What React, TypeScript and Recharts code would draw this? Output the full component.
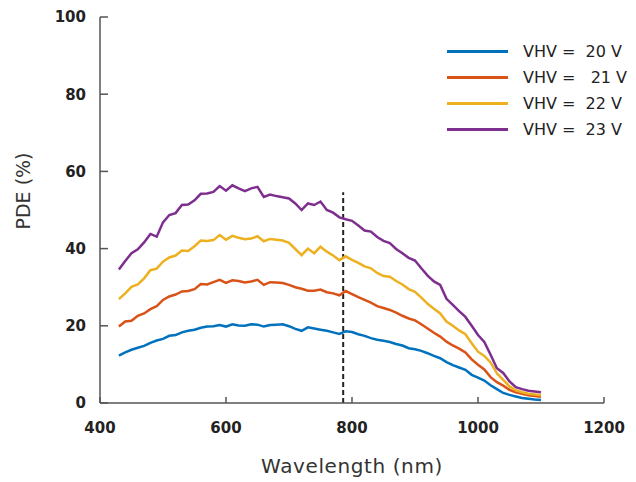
import { LineChart, Line, XAxis, YAxis, Legend, ReferenceLine } from 'recharts'

const wavelength = [
  430, 440, 450, 460, 470, 480, 490, 500, 510, 520, 530, 540, 550, 560, 570, 580, 590, 600, 610, 620,
  630, 640, 650, 660, 670, 680, 690, 700, 710, 720, 730, 740, 750, 760, 770, 780, 790, 800, 810, 820,
  830, 840, 850, 860, 870, 880, 890, 900, 910, 920, 930, 940, 950, 960, 970, 980, 990, 1000, 1010, 1020,
  1030, 1040, 1050, 1060, 1070, 1080, 1090, 1100,
]

const pde20 = [
  12.3, 13.1, 13.8, 14.3, 14.8, 15.6, 16.2, 16.6, 17.4, 17.6, 18.3, 18.7, 19.0, 19.5, 19.8, 19.9, 20.2, 19.8, 20.4, 20.1,
  20.0, 20.4, 20.3, 19.8, 20.2, 20.3, 20.4, 19.9, 19.2, 18.7, 19.6, 19.3, 19.0, 18.7, 18.3, 17.9, 18.6, 18.4, 17.8, 17.4,
  16.8, 16.4, 16.1, 15.8, 15.3, 14.9, 14.2, 13.9, 13.5, 12.9, 12.2, 11.6, 10.6, 9.8, 9.2, 8.6, 7.3, 6.6, 5.8, 4.6,
  3.6, 2.6, 2.1, 1.7, 1.3, 1.1, 0.9, 0.8,
]

const pde21 = [
  19.8, 21.1, 21.3, 22.6, 23.2, 24.3, 25.1, 26.7, 27.6, 28.1, 28.9, 29.0, 29.5, 30.8, 30.7, 31.3, 31.9, 31.1, 31.8, 31.6,
  31.2, 31.5, 31.9, 30.6, 31.3, 31.2, 31.1, 30.6, 30.0, 29.6, 29.1, 29.1, 29.4, 28.7, 28.4, 27.9, 29.0, 28.2, 27.4, 26.7,
  26.0, 25.1, 24.6, 24.1, 23.4, 22.6, 21.9, 21.4, 20.4, 19.3, 18.2, 17.2, 15.9, 14.9, 14.1, 13.1, 11.3, 9.9, 8.7, 6.7,
  5.4, 4.5, 3.4, 2.8, 2.4, 2.0, 1.8, 1.6,
]

const pde22 = [
  26.9, 28.4, 30.1, 30.7, 32.3, 34.4, 34.8, 36.6, 37.7, 38.2, 39.5, 39.4, 40.6, 42.1, 42.0, 42.2, 43.5, 42.3, 43.3, 42.8,
  42.4, 42.6, 43.2, 41.9, 42.5, 42.3, 42.1, 41.5, 39.9, 38.3, 40.0, 38.8, 40.5, 39.2, 38.2, 37.0, 38.0, 37.1, 36.3, 35.4,
  34.9, 33.7, 32.9, 32.7, 31.6, 30.7, 29.5, 28.8, 27.3, 25.7, 24.4, 23.2, 21.1, 20.0, 18.8, 17.8, 15.5, 13.3, 12.2, 10.5,
  7.7, 6.0, 4.3, 3.3, 2.8, 2.4, 2.2, 2.0,
]

const pde23 = [
  34.6, 36.8, 38.8, 39.8, 41.6, 43.8, 43.1, 46.8, 48.7, 49.2, 51.3, 51.4, 52.5, 54.2, 54.3, 54.7, 56.2, 55.0, 56.4, 55.6,
  54.9, 55.6, 56.0, 53.4, 54.0, 53.6, 53.3, 53.0, 51.7, 50.0, 51.7, 51.3, 52.2, 50.0, 49.3, 48.1, 47.6, 47.2, 46.0, 44.7,
  44.4, 43.0, 42.0, 41.4, 39.9, 38.8, 37.6, 36.9, 34.9, 33.0, 31.5, 30.6, 27.0, 25.4, 23.8, 22.3, 20.0, 17.6, 15.8, 12.5,
  9.0, 7.8, 5.6, 4.1, 3.6, 3.2, 3.0, 2.8,
]

const seriesNames = ['VHV =  20 V', 'VHV =   21 V', 'VHV =  22 V', 'VHV =  23 V']
const seriesKeys = ['v20', 'v21', 'v22', 'v23']
const seriesColors = ['#0072BD', '#D95319', '#EDB120', '#7E2F8E']

const xTicks = [400, 600, 800, 1000, 1200]
const yTicks = [0, 20, 40, 60, 80, 100]

// dashed marker
const markerWavelength = 786
const markerTop = 54.6

const data = wavelength.map((w, i) => ({
  wavelength: w,
  v20: pde20[i],
  v21: pde21[i],
  v22: pde22[i],
  v23: pde23[i],
}))

const fontFamily = '"DejaVu Sans", "Open Sans", sans-serif'
const axisColor = '#555'
const textColor = '#222'

const renderLegend = () => (
  <div style={{ fontFamily, fontSize: 16, color: textColor }}>
    {seriesNames.map((name, i) => (
      <div key={name} style={{ display: 'flex', alignItems: 'center', height: 26 }}>
        <span style={{ display: 'inline-block', width: 61, height: 3, background: seriesColors[i], marginRight: 15 }} />
        <span style={{ whiteSpace: 'pre' }}>{name}</span>
      </div>
    ))}
  </div>
)

// y title sits a bit above the middle of the axis, as in the original
const YTitle = (props: any) => {
  const { x, y, height } = props.viewBox
  const cx = x + 23
  const cy = y + height / 2 - 19
  return (
    <text
      x={cx}
      y={cy}
      transform={`rotate(-90, ${cx}, ${cy})`}
      textAnchor="middle"
      dominantBaseline="central"
      fill="#333"
      fontSize={19}
      fontFamily={fontFamily}
    >
      PDE (%)
    </text>
  )
}

const App = () => {
  return (
    <div style={{ width: 636, height: 482, fontFamily }}>
      <style>{'body { margin: 0; }'}</style>
      <LineChart width={636} height={482} data={data} margin={{ top: 17, right: 32, left: 0, bottom: 0 }}>
        <XAxis
          dataKey="wavelength"
          type="number"
          domain={[400, 1200]}
          ticks={xTicks}
          height={79}
          stroke={axisColor}
          strokeWidth={1.5}
          tickSize={-6}
          tickMargin={25}
          tick={{ fill: textColor, fontSize: 15, fontWeight: 700 }}
          label={{
            value: 'Wavelength (nm)',
            position: 'insideBottom',
            offset: 9,
            fill: '#333',
            fontSize: 20,
            style: { letterSpacing: '0.6px' },
          }}
        />
        <YAxis
          type="number"
          domain={[0, 100]}
          ticks={yTicks}
          width={100}
          stroke={axisColor}
          strokeWidth={1.5}
          tickSize={-8}
          tickMargin={22}
          tick={{ fill: textColor, fontSize: 15, fontWeight: 700 }}
          label={<YTitle />}
        />
        <Legend
          layout="vertical"
          align="center"
          verticalAlign="middle"
          content={renderLegend}
          wrapperStyle={{ left: 447, top: 38, width: 190 }}
        />
        <ReferenceLine
          segment={[{ x: markerWavelength, y: 0 }, { x: markerWavelength, y: markerTop }]}
          stroke="#222"
          strokeWidth={2}
          strokeDasharray="5 3"
        />
        {seriesKeys.map((key, i) => (
          <Line
            key={key}
            type="linear"
            dataKey={key}
            name={seriesNames[i]}
            stroke={seriesColors[i]}
            strokeWidth={2.5}
            dot={false}
            isAnimationActive={false}
          />
        ))}
      </LineChart>
    </div>
  )
}

export default App
